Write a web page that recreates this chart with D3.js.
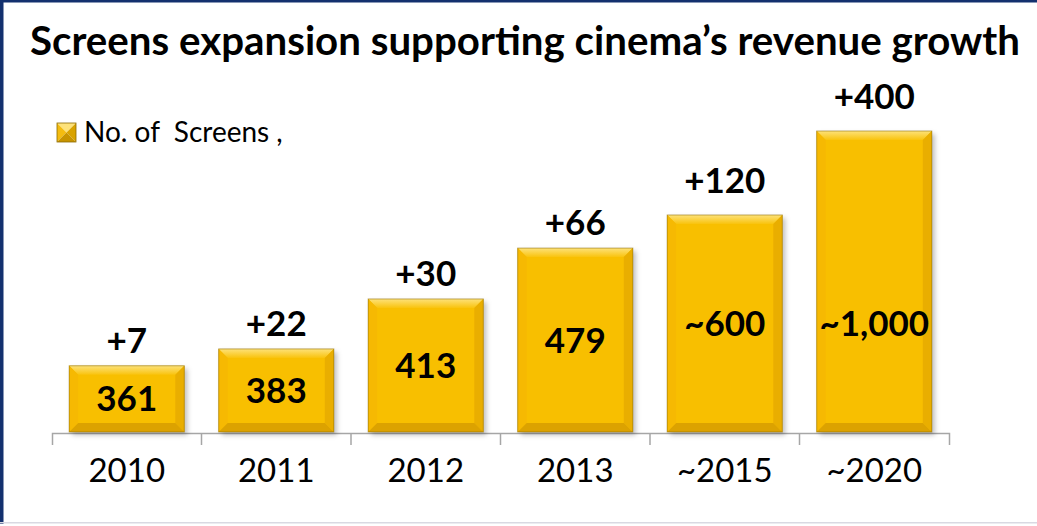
<!DOCTYPE html>
<html>
<head>
<meta charset="utf-8">
<script src="https://cdn.jsdelivr.net/npm/d3@7"></script>
<style>
  html, body { margin: 0; padding: 0; background: #fff; }
  svg { display: block; }
</style>
</head>
<body>
<div id="chart"></div>
<script>
// data
const years = ['2010', '2011', '2012', '2013', '~2015', '~2020'];
const screens = ['361', '383', '413', '479', '~600', '~1,000'];
const added = ['+7', '+22', '+30', '+66', '+120', '+400'];
// bars are not drawn to scale in the source, so keep the drawn height (2020 bar = 100)
const barLevels = [22, 27.6, 44.2, 61.1, 72.1, 100];

const width = 1037, height = 526;
const font = 'Lato, "Open Sans", sans-serif';

const svg = d3.select('#chart').append('svg')
  .attr('width', width)
  .attr('height', height);

const defs = svg.append('defs');
const shadow = defs.append('filter').attr('id', 'shadow')
  .attr('x', '-20%').attr('y', '-20%').attr('width', '140%').attr('height', '140%');
shadow.append('feDropShadow')
  .attr('dx', 3).attr('dy', 3).attr('stdDeviation', 2.5)
  .attr('flood-color', '#000').attr('flood-opacity', 0.25);

const topGrad = defs.append('linearGradient').attr('id', 'topBevel')
  .attr('x1', 0).attr('y1', 0).attr('x2', 0).attr('y2', 1);
topGrad.append('stop').attr('offset', 0).attr('stop-color', '#fde27a');
topGrad.append('stop').attr('offset', 1).attr('stop-color', '#f9c30d');

// frame
svg.append('rect').attr('x', 0).attr('y', 0).attr('width', width).attr('height', 2.5).attr('fill', '#13306e');
svg.append('rect').attr('x', 0).attr('y', 0).attr('width', 3.5).attr('height', 524).attr('fill', '#13306e');
svg.append('rect').attr('x', 0).attr('y', 522).attr('width', width).attr('height', 1.5).attr('fill', '#d9d9e2');

// title
svg.append('text')
  .attr('x', 30).attr('y', 55)
  .attr('textLength', 990).attr('lengthAdjust', 'spacingAndGlyphs')
  .style('font-family', font).style('font-weight', 700).style('font-size', '40px')
  .attr('fill', '#000')
  .text('Screens expansion supporting cinema\u2019s revenue growth');

// scales
const x = d3.scaleBand().domain(years).range([52, 949]).paddingInner(0.23).paddingOuter(0.115);
const y = d3.scaleLinear().domain([0, 100]).range([432, 131]);

// axis
const axisY = 433;
const axis = svg.append('g')
  .attr('transform', `translate(0,${axisY})`)
  .call(d3.axisBottom(x).tickSizeInner(0).tickSizeOuter(12).tickPadding(26));
axis.select('.domain').attr('stroke', '#a6a6a6').attr('stroke-width', 1.5);
axis.selectAll('.tick text')
  .style('font-family', font).style('font-size', '33px').attr('fill', '#000');
axis.selectAll('.boundary')
  .data(years.slice(1))
  .enter().append('line')
  .attr('class', 'boundary')
  .attr('x1', d => x(d) - x.step() * x.paddingInner() / 2)
  .attr('x2', d => x(d) - x.step() * x.paddingInner() / 2)
  .attr('y1', 0).attr('y2', 12)
  .attr('stroke', '#a6a6a6').attr('stroke-width', 1.5);

// bars
const bars = svg.selectAll('.bar')
  .data(years.map((d, i) => ({ year: d, level: barLevels[i], label: screens[i], add: added[i] })))
  .enter().append('g').attr('class', 'bar');

const bev = 9;
bars.each(function(d) {
  const g = d3.select(this);
  const x0 = x(d.year), x1 = x0 + x.bandwidth();
  const y0 = y(d.level), y1 = y(0);
  g.append('rect')
    .attr('x', x0).attr('y', y0).attr('width', x1 - x0).attr('height', y1 - y0)
    .attr('fill', '#f8bf06').attr('filter', 'url(#shadow)');
  const poly = (pts, fill) => g.append('polygon')
    .attr('points', pts.map(p => p.join(',')).join(' ')).attr('fill', fill);
  poly([[x0, y0], [x1, y0], [x1 - bev, y0 + bev], [x0 + bev, y0 + bev]], 'url(#topBevel)');
  poly([[x0, y0], [x0 + bev, y0 + bev], [x0 + bev, y1 - bev], [x0, y1]], '#f6b902');
  poly([[x1, y0], [x1, y1], [x1 - bev, y1 - bev], [x1 - bev, y0 + bev]], '#e9ae00');
  poly([[x0, y1], [x1, y1], [x1 - bev, y1 - bev], [x0 + bev, y1 - bev]], '#dca200');
  g.append('rect')
    .attr('x', x0).attr('y', y0).attr('width', x1 - x0).attr('height', y1 - y0)
    .attr('fill', 'none').attr('stroke', '#8c6a00').attr('stroke-opacity', 0.55).attr('stroke-width', 1);

  const cx = x0 + x.bandwidth() / 2;
  g.append('text')
    .attr('x', cx).attr('y', y(Math.min(d.level / 2, 36)))
    .attr('dy', '0.36em')
    .attr('text-anchor', 'middle')
    .style('font-family', font).style('font-weight', 700).style('font-size', '35px')
    .attr('fill', '#000')
    .text(d.label);
  g.append('text')
    .attr('x', cx).attr('y', y0 - (d.level > 70 ? 22 : 13))
    .attr('text-anchor', 'middle')
    .style('font-family', font).style('font-weight', 700).style('font-size', '35px')
    .attr('fill', '#000')
    .text(d.add);
});

// legend
const lg = svg.append('g').attr('transform', 'translate(57,123)');
const s = 19;
lg.append('polygon').attr('points', `0,0 ${s},0 ${s / 2},${s / 2}`).attr('fill', '#fde27a');
lg.append('polygon').attr('points', `0,0 ${s / 2},${s / 2} 0,${s}`).attr('fill', '#f4bc10');
lg.append('polygon').attr('points', `${s},0 ${s},${s} ${s / 2},${s / 2}`).attr('fill', '#d9a300');
lg.append('polygon').attr('points', `0,${s} ${s},${s} ${s / 2},${s / 2}`).attr('fill', '#c89400');
lg.append('rect').attr('width', s).attr('height', s).attr('fill', 'none')
  .attr('stroke', '#8c6a00').attr('stroke-width', 0.8);
lg.append('text')
  .attr('x', 27).attr('y', 19)
  .style('font-family', font).style('font-size', '28px')
  .attr('fill', '#000')
  .attr('xml:space', 'preserve')
  .style('white-space', 'pre')
  .text('No. of  Screens ,');
</script>
</body>
</html>
